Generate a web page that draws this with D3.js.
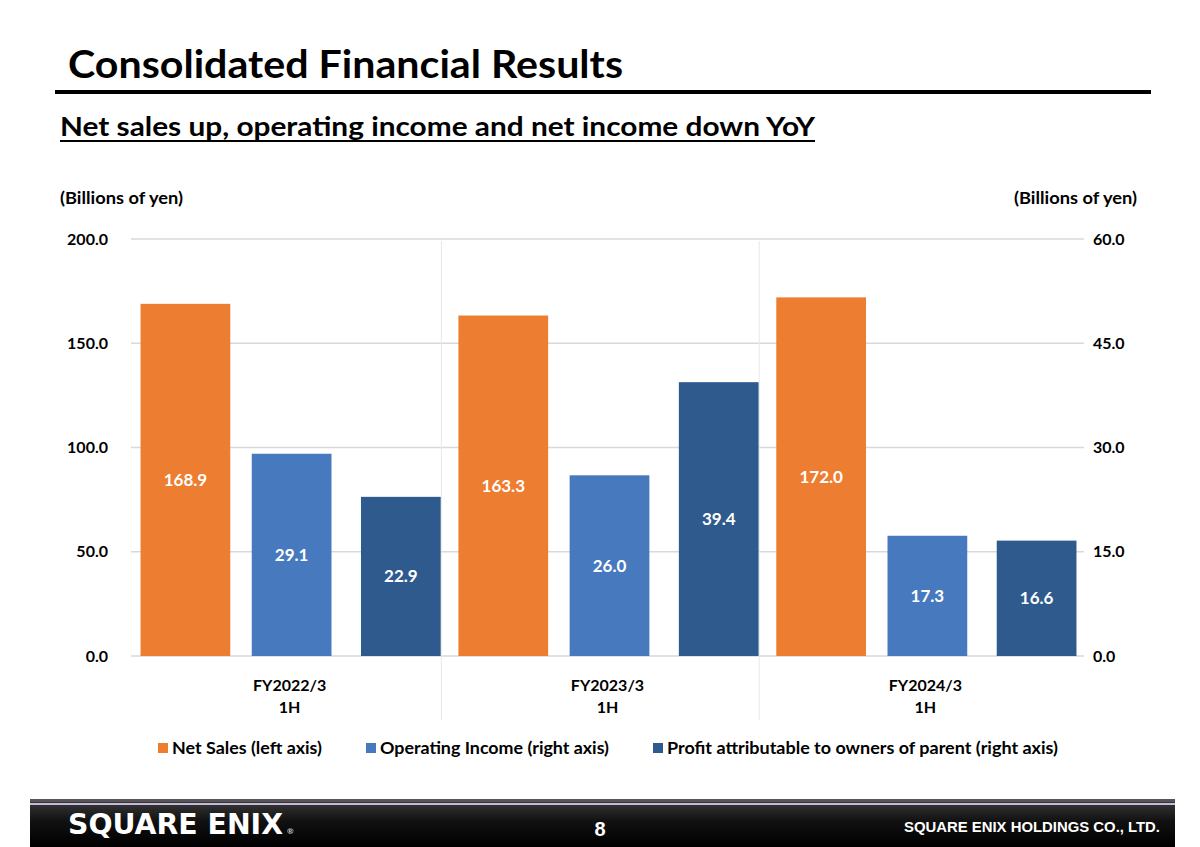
<!DOCTYPE html>
<html>
<head>
<meta charset="utf-8">
<script src="https://cdn.jsdelivr.net/npm/d3@7"></script>
<style>
  body { margin: 0; background: #fff; }
  text { font-family: Lato, "Open Sans", sans-serif; font-weight: bold; }
</style>
</head>
<body>
<div id="vis_container"></div>
<script>
// chart values (billions of yen)
var categories = ["FY2022/3\n1H", "FY2023/3\n1H", "FY2024/3\n1H"];
var netSales = [168.9, 163.3, 172.0];      // left axis
var opIncome = [29.1, 26.0, 17.3];         // right axis
var profit = [22.9, 39.4, 16.6];           // right axis
var leftTicks = [0, 50, 100, 150, 200];
var rightTicks = [0, 15, 30, 45, 60];
var seriesNames = ["Net Sales (left axis)", "Operating Income (right axis)",
                   "Profit attributable to owners of parent (right axis)"];

var width = 1200, height = 847;
var colors = ["#ED7D31", "#4679BD", "#2E5A8E"];

var svg = d3.select("#vis_container")
    .append("svg")
    .attr("width", width)
    .attr("height", height);

// ---- header ----
svg.append("text")
    .attr("x", 68).attr("y", 78)
    .attr("font-size", 39)
    .attr("textLength", 555).attr("lengthAdjust", "spacingAndGlyphs")
    .text("Consolidated Financial Results");

svg.append("rect")
    .attr("x", 55).attr("y", 90).attr("width", 1096).attr("height", 4)
    .attr("fill", "#000");

svg.append("text")
    .attr("x", 60).attr("y", 136)
    .attr("font-size", 27)
    .attr("textLength", 755).attr("lengthAdjust", "spacingAndGlyphs")
    .text("Net sales up, operating income and net income down YoY");

svg.append("rect")
    .attr("x", 60).attr("y", 140).attr("width", 755).attr("height", 2)
    .attr("fill", "#000");

// ---- scales ----
var plotLeft = 131, plotRight = 1084;
var yTop = 239, yBottom = 656;

var x = d3.scaleBand()
    .domain(categories)
    .range([plotLeft, plotRight])
    .paddingInner(0.062)
    .paddingOuter(0.03);

var x1 = d3.scaleBand()
    .domain([0, 1, 2])
    .range([0, x.bandwidth()])
    .paddingInner(0.27);

var yLeft = d3.scaleLinear().domain([0, 200]).range([yBottom, yTop]);
var yRight = d3.scaleLinear().domain([0, 60]).range([yBottom, yTop]);

// gridlines
svg.append("g")
    .selectAll("line")
    .data(leftTicks)
    .join("line")
    .attr("x1", plotLeft).attr("x2", plotRight)
    .attr("y1", function (d) { return yLeft(d); })
    .attr("y2", function (d) { return yLeft(d); })
    .attr("stroke", "#D9D9D9")
    .attr("stroke-width", 1.5);

// category separators
svg.append("g")
    .selectAll("line")
    .data(categories.slice(1))
    .join("line")
    .attr("x1", function (d) { return x(d) - 17; })
    .attr("x2", function (d) { return x(d) - 17; })
    .attr("y1", yTop + 2).attr("y2", 720)
    .attr("stroke", "#E8E8E8")
    .attr("stroke-width", 1);

// left axis
svg.append("g")
    .attr("transform", "translate(" + (plotLeft - 20) + ",0)")
    .call(d3.axisLeft(yLeft).tickValues(leftTicks).tickSize(0).tickFormat(d3.format(".1f")))
    .call(function (g) { g.select(".domain").remove(); })
    .selectAll("text")
    .attr("font-size", 16)
    .attr("fill", "#000")
    .style("font-family", "Lato, sans-serif");

// right axis
svg.append("g")
    .attr("transform", "translate(" + (plotRight + 6) + ",0)")
    .call(d3.axisRight(yRight).tickValues(rightTicks).tickSize(0).tickFormat(d3.format(".1f")))
    .call(function (g) { g.select(".domain").remove(); })
    .selectAll("text")
    .attr("font-size", 16)
    .attr("fill", "#000")
    .style("font-family", "Lato, sans-serif");

svg.append("text")
    .attr("x", 60).attr("y", 204)
    .attr("font-size", 17)
    .attr("textLength", 123).attr("lengthAdjust", "spacingAndGlyphs")
    .text("(Billions of yen)");

svg.append("text")
    .attr("x", 1014).attr("y", 204)
    .attr("font-size", 17)
    .attr("textLength", 123).attr("lengthAdjust", "spacingAndGlyphs")
    .text("(Billions of yen)");

// ---- bars ----
var rows = [];
categories.forEach(function (c, i) {
    rows.push({ cat: c, s: 0, v: netSales[i], y: yLeft });
    rows.push({ cat: c, s: 1, v: opIncome[i], y: yRight });
    rows.push({ cat: c, s: 2, v: profit[i], y: yRight });
});

function barW(d) { return d.s === 0 ? x1.bandwidth() + 10 : x1.bandwidth(); }
function barX(d) { return x(d.cat) + x1(d.s) + (d.s === 0 ? 0 : 2); }

svg.append("g")
    .selectAll("rect")
    .data(rows)
    .join("rect")
    .attr("x", barX)
    .attr("width", barW)
    .attr("y", function (d) { return d.y(d.v); })
    .attr("height", function (d) { return yBottom - d.y(d.v); })
    .attr("fill", function (d) { return colors[d.s]; });

svg.append("g")
    .selectAll("text")
    .data(rows)
    .join("text")
    .attr("x", function (d) { return barX(d) + barW(d) / 2; })
    .attr("y", function (d) { return (d.y(d.v) + yBottom) / 2; })
    .attr("dy", "0.35em")
    .attr("text-anchor", "middle")
    .attr("font-size", 17)
    .attr("fill", "#fff")
    .text(function (d) { return d3.format(".1f")(d.v); });

// category labels
var catLabels = svg.append("g")
    .selectAll("text")
    .data(categories)
    .join("text")
    .attr("x", function (d) { return x(d) + x.bandwidth() / 2; })
    .attr("y", 691)
    .attr("text-anchor", "middle")
    .attr("font-size", 16);

catLabels.selectAll("tspan")
    .data(function (d) { return d.split("\n"); })
    .join("tspan")
    .attr("x", function () { var p = this.parentNode.__data__; return x(p) + x.bandwidth() / 2; })
    .attr("dy", function (d, i) { return i === 0 ? 0 : 22; })
    .text(function (d) { return d; });

// ---- legend ----
var legendX = [158, 366, 653];
var legendW = [150, 229, 391];
var legend = svg.append("g")
    .selectAll("g")
    .data(seriesNames)
    .join("g")
    .attr("transform", function (d, i) { return "translate(" + legendX[i] + ",743)"; });

legend.append("rect")
    .attr("width", 10).attr("height", 10)
    .attr("fill", function (d, i) { return colors[i]; });

legend.append("text")
    .attr("x", 14).attr("y", 11)
    .attr("font-size", 17)
    .attr("textLength", function (d, i) { return legendW[i]; })
    .attr("lengthAdjust", "spacingAndGlyphs")
    .text(function (d) { return d; });

// ---- footer ----
var defs = svg.append("defs");
var grad = defs.append("linearGradient")
    .attr("id", "foot").attr("x1", 0).attr("y1", 0).attr("x2", 0).attr("y2", 1);
grad.append("stop").attr("offset", "0%").attr("stop-color", "#3a3a3a");
grad.append("stop").attr("offset", "45%").attr("stop-color", "#111");
grad.append("stop").attr("offset", "100%").attr("stop-color", "#000");

svg.append("rect")
    .attr("x", 30).attr("y", 800).attr("width", 1145).attr("height", 47)
    .attr("fill", "url(#foot)");
svg.append("rect")
    .attr("x", 30).attr("y", 799).attr("width", 1145).attr("height", 3)
    .attr("fill", "#555");
svg.append("rect")
    .attr("x", 30).attr("y", 803).attr("width", 1145).attr("height", 2)
    .attr("fill", "#C9B8DE");

svg.append("text")
    .attr("x", 68).attr("y", 834)
    .attr("font-size", 28)
    .attr("fill", "#fff")
    .style("font-family", "'DejaVu Sans', sans-serif")
    .attr("textLength", 215).attr("lengthAdjust", "spacingAndGlyphs")
    .text("SQUARE ENIX");
svg.append("text")
    .attr("x", 287).attr("y", 834)
    .attr("font-size", 8)
    .attr("fill", "#ccc")
    .text("®");

svg.append("text")
    .attr("x", 600).attr("y", 836)
    .attr("text-anchor", "middle")
    .attr("font-size", 20)
    .attr("fill", "#fff")
    .style("font-family", "'Liberation Sans', sans-serif")
    .text("8");

svg.append("text")
    .attr("x", 1160).attr("y", 832)
    .attr("text-anchor", "end")
    .attr("font-size", 14)
    .attr("fill", "#fff")
    .style("font-family", "'Liberation Sans', sans-serif")
    .attr("textLength", 256).attr("lengthAdjust", "spacingAndGlyphs")
    .text("SQUARE ENIX HOLDINGS CO., LTD.");
</script>
</body>
</html>
